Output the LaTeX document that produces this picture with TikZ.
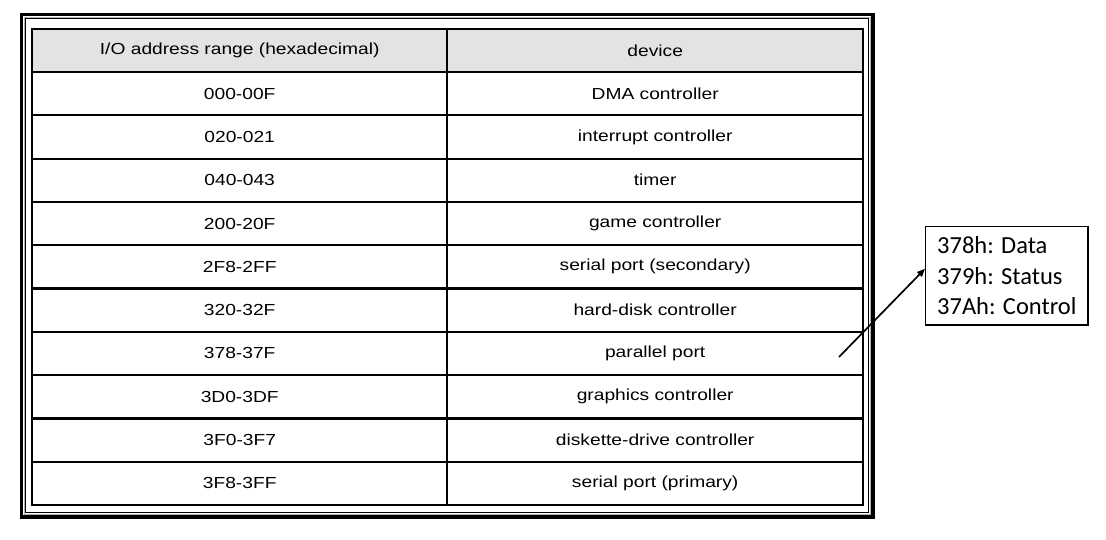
\documentclass[tikz,border=0pt]{standalone}
\usepackage{fontspec}
\usetikzlibrary{matrix}
\usetikzlibrary{positioning}
\usetikzlibrary{arrows.meta}
\newfontfamily\tabfont[FakeStretch=1.2]{Liberation Sans}
\newfontfamily\notefont{Carlito}
\tikzset{iotable/.style={matrix of nodes,
                        row sep=-2.2pt,
                        column sep=-2.2pt,
                        anchor=north west,
                        inner sep=0pt,
                        nodes={draw, line width=2.2pt, anchor=center, outer sep=0pt,
                               minimum height=43.3pt, font=\tabfont\fontsize{16}{18}\selectfont},
                        column 1/.style={nodes={minimum width=415pt}},
                        column 2/.style={nodes={minimum width=416pt}},
                        row 1/.style={nodes={fill=gray!22}}
                        },
        notebox/.style={draw, line width=1.3pt, align=left, inner xsep=11.5pt, inner ysep=10pt,
                        font=\notefont\fontsize{24.5}{30.5}\selectfont},
}

\begin{document}
\begin{tikzpicture}
    [x=1pt,y=-1pt]
    \useasboundingbox[fill=white] (0,0) rectangle (1106,540);

    % FRAME
    \draw[line width=3.5pt] (21.5,14.5) rectangle (873,517);
    \draw[gray!60, line width=0.9pt] (24,17) rectangle (870,514.5);
    \draw[line width=1.2pt] (25.5,18.5) rectangle (868.5,512.5);

    % TABLE
    \matrix[iotable] (table) at (30.9,27.4) {
        I/O address range (hexadecimal) & device \\
        000-00F & DMA controller \\
        020-021 & interrupt controller \\
        040-043 & timer \\
        200-20F & game controller \\
        2F8-2FF & serial port (secondary) \\
        320-32F & hard-disk controller \\
        378-37F & parallel port \\
        3D0-3DF & graphics controller \\
        3F0-3F7 & diskette-drive controller \\
        3F8-3FF & serial port (primary) \\
    };

    % PARALLEL PORT REGISTERS
    \node[notebox, anchor=north west] (ports) at (925,226) {378h: Data\\379h: Status\\37Ah: Control};

    \coordinate (tail) at (839,357);
    \draw[-{Triangle[length=8pt,width=6.5pt]},line width=1.7pt] (tail) -- ([yshift=7pt]ports.west);

\end{tikzpicture}
\end{document}
